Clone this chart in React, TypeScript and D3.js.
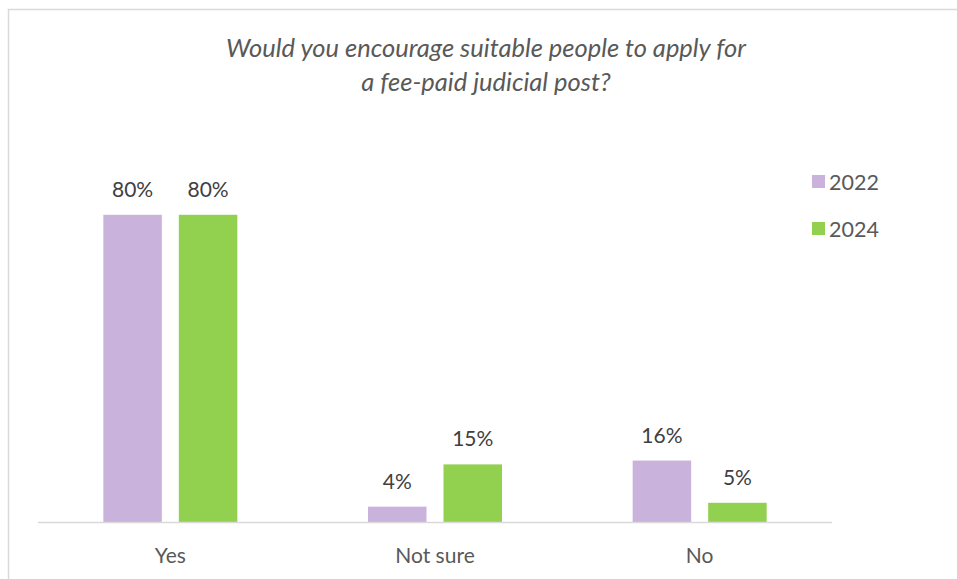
import React from "react";
import * as d3 from "d3";

const categories = ["Yes", "Not sure", "No"];
const seriesNames = ["2022", "2024"];
const values2022 = [80, 4, 16];
const values2024 = [80, 15, 5];
const seriesColors = ["#c9b3dc", "#92d050"];
const titleLines = [
  "Would you encourage suitable people to apply for",
  "a fee-paid judicial post?",
];

const W = 957;
const H = 579;
const FONT = "Lato, 'Open Sans', sans-serif";

export default function App() {
  const seriesValues = [values2022, values2024];

  const x0 = d3.scaleBand<string>().domain(categories).range([38, 832]).padding(0);
  const groupWidth = 134;
  const x1 = d3
    .scaleBand<string>()
    .domain(seriesNames)
    .range([0, groupWidth])
    .paddingInner(0.225);
  const y = d3.scaleLinear().domain([0, 100]).range([522, 138]);

  return (
    <svg
      width={W}
      height={H}
      style={{ position: "absolute", left: 0, top: 0, background: "#fff" }}
      fontFamily={FONT}
    >
      {/* chart frame */}
      <rect x={8.5} y={9.5} width={W + 20} height={H + 20} fill="#fff" stroke="#d9d9d9" strokeWidth={1.5} />

      {/* title */}
      {titleLines.map((t, i) => (
        <text
          key={t}
          x={486}
          y={57 + i * 34}
          textAnchor="middle"
          fontSize={25.5}
          fontStyle="italic"
          fill="#595959"
        >
          {t}
        </text>
      ))}

      {/* bars and value labels */}
      {categories.map((cat, ci) => {
        const gx = (x0(cat) ?? 0) + (x0.bandwidth() - groupWidth) / 2;
        return (
          <g key={cat} transform={`translate(${gx},0)`}>
            {seriesNames.map((s, si) => {
              const v = seriesValues[si][ci];
              const bx = x1(s) ?? 0;
              return (
                <g key={s}>
                  <rect
                    x={bx}
                    y={y(v)}
                    width={x1.bandwidth()}
                    height={y(0) - y(v)}
                    fill={seriesColors[si]}
                  />
                  <text
                    x={bx + x1.bandwidth() / 2}
                    y={y(v) - 18}
                    textAnchor="middle"
                    fontSize={21}
                    fill="#404040"
                  >
                    {`${v}%`}
                  </text>
                </g>
              );
            })}
          </g>
        );
      })}

      {/* category axis */}
      <line x1={38} x2={832} y1={522.5} y2={522.5} stroke="#d9d9d9" strokeWidth={1.5} />
      {categories.map((cat) => (
        <text
          key={cat}
          x={(x0(cat) ?? 0) + x0.bandwidth() / 2}
          y={563}
          textAnchor="middle"
          fontSize={21}
          fill="#595959"
        >
          {cat}
        </text>
      ))}

      {/* legend */}
      {seriesNames.map((s, i) => (
        <g key={s} transform={`translate(812,${175 + i * 47})`}>
          <rect x={0} y={0} width={13} height={13} fill={seriesColors[i]} />
          <text x={17} y={14.5} fontSize={21.5} fill="#595959">
            {s}
          </text>
        </g>
      ))}
    </svg>
  );
}
